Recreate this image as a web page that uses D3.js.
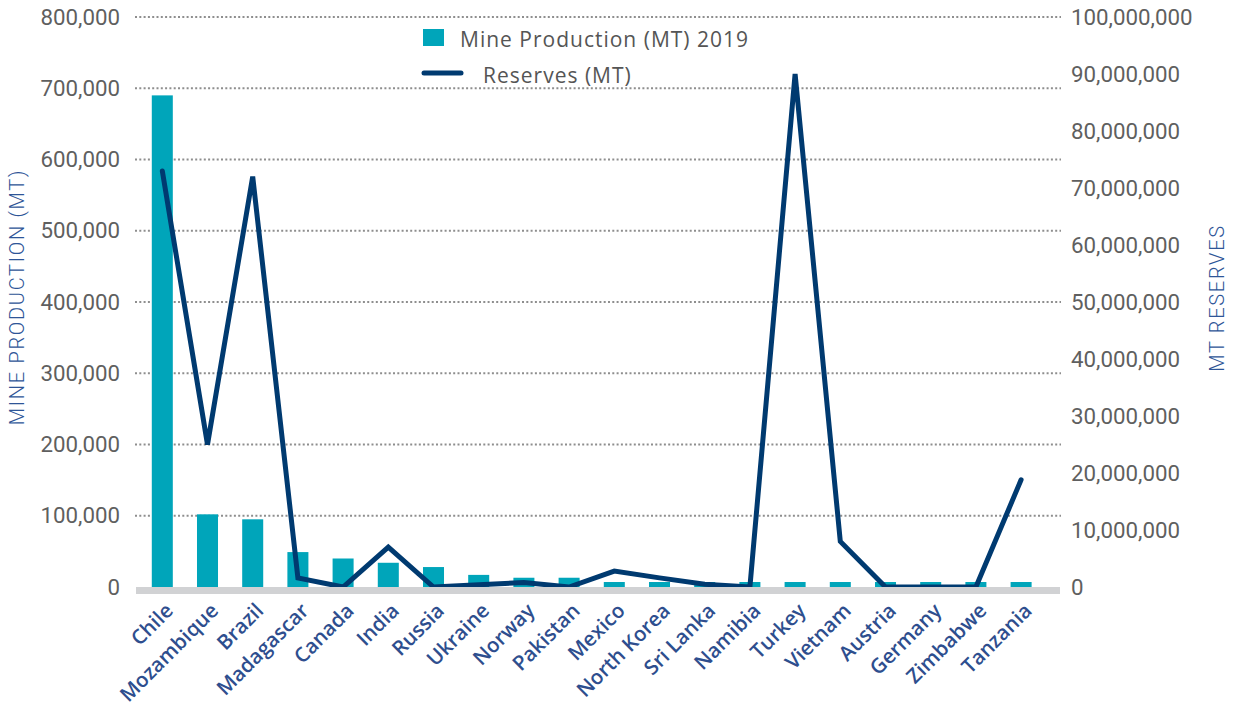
<!DOCTYPE html>
<html><head><meta charset="utf-8">
<script src="https://cdn.jsdelivr.net/npm/d3@7"></script>
<style>
html,body{margin:0;padding:0;background:#fff;}
svg{display:block;}
</style></head>
<body>
<svg id="chart" width="1238" height="715"></svg>
<script>
const categories = ["Chile","Mozambique","Brazil","Madagascar","Canada","India","Russia","Ukraine","Norway","Pakistan","Mexico","North Korea","Sri Lanka","Namibia","Turkey","Vietnam","Austria","Germany","Zimbabwe","Tanzania"];
const production = [690000,102000,95000,49000,40000,34000,28000,17000,13000,13000,7000,7000,7000,7000,7000,7000,7000,7000,7000,7000];
const reserves = [73000000,25000000,72000000,1600000,0,7000000,0,400000,800000,0,2800000,1600000,500000,0,90000000,8000000,0,0,0,18800000];
const leftTicks = [0,100000,200000,300000,400000,500000,600000,700000,800000];
const rightTicks = [0,10000000,20000000,30000000,40000000,50000000,60000000,70000000,80000000,90000000,100000000];
const seriesNames = ["Mine Production (MT) 2019","Reserves (MT)"];
const axisTitles = ["MINE PRODUCTION (MT)","MT RESERVES"];

const svg = d3.select("#chart");
const plotL = 135, plotR = 1061, yTop = 17, yBot = 587;
const x = d3.scaleBand().domain(categories).range([139.7,1043.7]);
const yL = d3.scaleLinear().domain([0,800000]).range([yBot,yTop]);
const yR = d3.scaleLinear().domain([0,100000000]).range([yBot,yTop]);
const fmt = d3.format(",");
const barColor = "#00A5BA", lineColor = "#003A70";

// gridlines
svg.append("g").selectAll("line").data(leftTicks.filter(d=>d>0)).join("line")
  .attr("x1",plotL).attr("x2",plotR)
  .attr("y1",d=>yL(d)).attr("y2",d=>yL(d))
  .attr("stroke","#8E8E8E").attr("stroke-width",2).attr("stroke-dasharray","2,2.3");

// bars
const bw = x.bandwidth()*0.465;
svg.append("g").selectAll("rect").data(categories).join("rect")
  .attr("x",(d)=>x(d)+x.bandwidth()/2-bw/2)
  .attr("width",bw)
  .attr("y",(d,i)=>yL(production[i]))
  .attr("height",(d,i)=>yL(0)-yL(production[i]))
  .attr("fill",barColor);

// line
const line = d3.line().x((d,i)=>x(categories[i])+x.bandwidth()/2).y(d=>yR(d));
svg.append("path").datum(reserves).attr("d",line)
  .attr("fill","none").attr("stroke",lineColor).attr("stroke-width",5)
  .attr("stroke-linejoin","miter").attr("stroke-linecap","round");

// baseline band
svg.append("rect").attr("x",plotL+1).attr("width",plotR-plotL-2)
  .attr("y",yL(0)).attr("height",7).attr("fill","#D1D2D4");

// left axis
const gl = svg.append("g").attr("transform",`translate(${plotL},0)`)
  .call(d3.axisLeft(yL).tickValues(leftTicks).tickFormat(fmt).tickSize(0).tickPadding(15));
gl.select(".domain").remove();
gl.selectAll("text").attr("font-family","Roboto").attr("font-size","22.3px").attr("fill","#5F5F5F");

// right axis
const gr = svg.append("g").attr("transform",`translate(${plotR},0)`)
  .call(d3.axisRight(yR).tickValues(rightTicks).tickFormat(fmt).tickSize(0).tickPadding(10));
gr.select(".domain").remove();
gr.selectAll("text").attr("font-family","Roboto").attr("font-size","22.3px").attr("fill","#5F5F5F");

// x labels
svg.append("g").selectAll("text").data(categories).join("text")
  .attr("transform",d=>`translate(${x(d)+x.bandwidth()/2+12},${612}) rotate(-45)`)
  .attr("text-anchor","end")
  .attr("font-family","'Open Sans'").attr("font-weight",600).attr("font-size","20.5px")
  .attr("fill","#2E4E8E").text(d=>d);

// axis titles
svg.append("text").attr("transform","translate(24,297) rotate(-90)")
  .attr("text-anchor","middle").attr("font-family","Roboto").attr("font-weight",300)
  .attr("font-size","20px").attr("letter-spacing","1.7px").attr("fill","#2E5597").text(axisTitles[0]);
svg.append("text").attr("transform","translate(1224,298) rotate(-90)")
  .attr("text-anchor","middle").attr("font-family","Roboto").attr("font-weight",300)
  .attr("font-size","20px").attr("letter-spacing","1.7px").attr("fill","#2E5597").text(axisTitles[1]);

// legend
const lg = svg.append("g");
lg.append("rect").attr("x",423).attr("y",29).attr("width",21).attr("height",17).attr("fill",barColor);
lg.append("text").attr("x",460).attr("y",47).attr("font-family","'Open Sans'").attr("font-weight",500)
  .attr("font-size","21px").attr("letter-spacing","1px").attr("fill","#555555").text(seriesNames[0]);
lg.append("line").attr("x1",424).attr("x2",461).attr("y1",73).attr("y2",73)
  .attr("stroke",lineColor).attr("stroke-width",5).attr("stroke-linecap","round");
lg.append("text").attr("x",483).attr("y",83).attr("font-family","'Open Sans'").attr("font-weight",500)
  .attr("font-size","21px").attr("letter-spacing","1px").attr("fill","#555555").text(seriesNames[1]);
</script>
</body></html>
